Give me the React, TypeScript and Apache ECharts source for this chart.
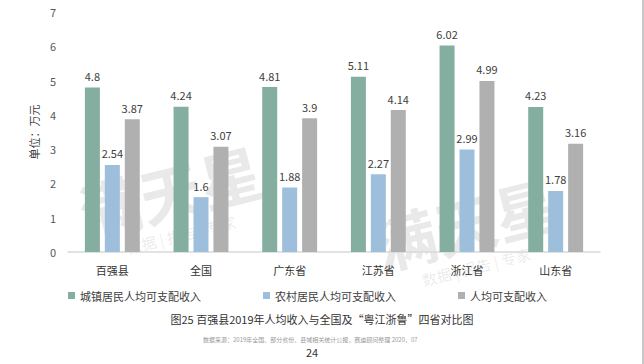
import React, { useEffect, useRef } from "react";
import * as echarts from "echarts";

const categories = ["百强县", "全国", "广东省", "江苏省", "浙江省", "山东省"];
const urbanIncome = [4.8, 4.24, 4.81, 5.11, 6.02, 4.23];
const ruralIncome = [2.54, 1.6, 1.88, 2.27, 2.99, 1.78];
const avgIncome = [3.87, 3.07, 3.9, 4.14, 4.99, 3.16];
const seriesNames = ["城镇居民人均可支配收入", "农村居民人均可支配收入", "人均可支配收入"];
const colors = ["#84AE9F", "#9DBFDC", "#B0B0B0"];
const yAxisName = "单位：万元";
const titleText = "图25 百强县2019年人均收入与全国及“粤江浙鲁”四省对比图";
const sourceText = "数据来源：2019年全国、部分省份、县域相关统计公报，赛迪顾问整理 2020，07";
const pageNumber = "24";
const watermark = "满天星";
const watermarkSub = "数据 | 报告 | 专家";

export default function App() {
  const ref = useRef<HTMLDivElement>(null);
  useEffect(() => {
    if (!ref.current) return;
    const chart = echarts.init(ref.current, null, { renderer: "svg" });
    const font = "'Noto Sans CJK SC', 'Noto Sans', sans-serif";
    const label = {
      show: true,
      position: "top" as const,
      distance: 6,
      color: "#404040",
      fontSize: 11,
      fontFamily: font,
    };
    const mkWatermark = (x: number, y: number) => ({
      type: "group",
      x,
      y,
      rotation: (14 * Math.PI) / 180,
      silent: true,
      children: [
        {
          type: "text",
          x: 0,
          y: 0,
          style: {
            text: watermark,
            font: `bold 62px ${font}`,
            fill: "rgba(110,110,110,0.15)",
            textAlign: "center",
            textVerticalAlign: "middle",
            letterSpacing: 14,
          },
        },
        {
          type: "text",
          x: 0,
          y: 46,
          style: {
            text: watermarkSub,
            font: `15px ${font}`,
            fill: "rgba(110,110,110,0.15)",
            textAlign: "center",
            textVerticalAlign: "middle",
            letterSpacing: 4,
          },
        },
      ],
    });
    chart.setOption({
      animation: false,
      textStyle: { fontFamily: font },
      grid: { left: 68, right: 44, top: 12, bottom: 112 },
      legend: {
        data: seriesNames,
        left: 63,
        top: 285,
        icon: "rect",
        itemWidth: 7,
        itemHeight: 7,
        itemGap: 62,
        textStyle: { fontSize: 11, color: "#404040", fontFamily: font },
      },
      xAxis: {
        type: "category",
        data: categories,
        axisLine: { lineStyle: { color: "#D9D9D9", width: 1.5 } },
        axisTick: { show: false },
        axisLabel: { color: "#333", fontSize: 11, margin: 12, fontFamily: font },
      },
      yAxis: {
        type: "value",
        min: 0,
        max: 7,
        interval: 1,
        name: yAxisName,
        nameLocation: "middle",
        nameGap: 21,
        nameRotate: 90,
        nameTextStyle: { color: "#404040", fontSize: 11, fontFamily: font },
        axisLine: { show: false },
        axisTick: { show: false },
        splitLine: { show: false },
        axisLabel: { color: "#595959", fontSize: 11, margin: 12 },
      },
      series: [
        { name: seriesNames[0], type: "bar", data: urbanIncome, barWidth: 15, barGap: "33%", itemStyle: { color: colors[0] }, label },
        { name: seriesNames[1], type: "bar", data: ruralIncome, barWidth: 15, barGap: "33%", itemStyle: { color: colors[1] }, label },
        { name: seriesNames[2], type: "bar", data: avgIncome, barWidth: 15, barGap: "33%", itemStyle: { color: colors[2] }, label },
      ],
      graphic: [
        mkWatermark(170, 190),
        mkWatermark(465, 222),
        {
          type: "text",
          left: "center",
          top: 313,
          style: { text: titleText, font: `11px ${font}`, fill: "#333" },
        },
        {
          type: "text",
          left: 203,
          top: 336,
          style: { text: sourceText, font: `6px ${font}`, fill: "#999" },
        },
        {
          type: "text",
          left: 306,
          top: 346,
          style: { text: pageNumber, font: `11px ${font}`, fill: "#333" },
        },
        {
          type: "rect",
          shape: { x: 642, y: 0, width: 2, height: 364 },
          style: { fill: "#C8C8C8" },
        },
      ],
    });
    return () => chart.dispose();
  }, []);
  return <div ref={ref} style={{ width: 644, height: 364, position: "absolute", left: 0, top: 0 }} />;
}
